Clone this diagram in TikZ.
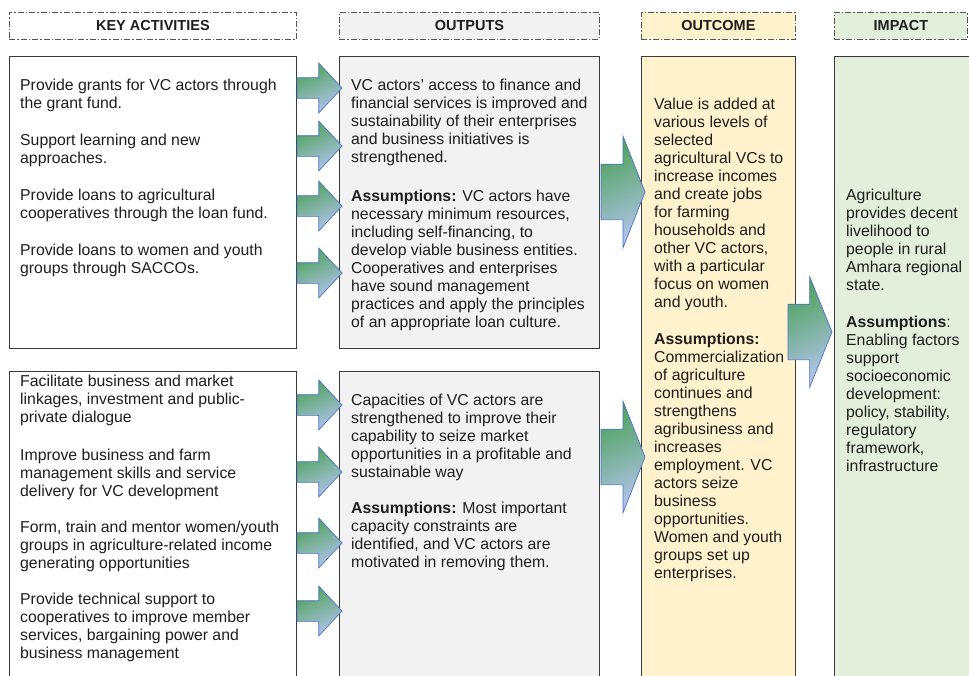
\documentclass[tikz,border=0pt]{standalone}
\usepackage{fontspec}
\setmainfont{Liberation Sans}
\usepackage{xcolor}
\usetikzlibrary{shapes.arrows}
\definecolor{boxline}{HTML}{3A3A3A}
\definecolor{headline}{HTML}{555555}
\definecolor{outfill}{HTML}{F2F2F2}
\definecolor{outcfill}{HTML}{FFF2CC}
\definecolor{impfill}{HTML}{E2EFDA}
\definecolor{arrowgreen}{HTML}{4EA25C}
\definecolor{arrowblue}{HTML}{B3C4EC}
\definecolor{arrowline}{HTML}{4A72C8}
\definecolor{txtcol}{HTML}{1E1E1E}

\begin{document}
\begin{tikzpicture}[x=1pt,y=-1pt,
  head/.style={draw=headline,line width=0.8pt,dash pattern=on 6pt off 2pt on 1.5pt off 2pt,minimum height=27pt,inner sep=0pt,anchor=north west,font=\bfseries\fontsize{14.5}{17}\selectfont,text=txtcol},
  box/.style={draw=boxline,line width=1.3pt,anchor=north west,inner sep=0pt},
  txt/.style={anchor=north west,align=left,inner sep=0pt,text=txtcol,font=\fontsize{15.8}{18}\selectfont},
  blk/.style={single arrow,draw=arrowline,line width=0.7pt,top color=arrowgreen,bottom color=arrowblue,shading angle=25,inner xsep=0pt,outer sep=0pt,single arrow head indent=0pt,anchor=tail},
  small/.style={blk,inner ysep=10pt,single arrow head extend=14.5pt,single arrow tip angle=94,minimum height=45pt},
  big/.style={blk,inner ysep=27.5pt,single arrow head extend=28pt,single arrow tip angle=137,minimum height=44pt}]
\useasboundingbox (0,0) rectangle (969,675);
\fill[white] (0,0) rectangle (969,675);
\clip (0,0) rectangle (969,675);

\draw (9,12) node[head,fill=white,minimum width=287pt] (HAct) {KEY ACTIVITIES};
\draw (339,12) node[head,fill=outfill,minimum width=260pt] (HOut) {OUTPUTS};
\draw (641,12) node[head,fill=outcfill,minimum width=154pt] (HOutc) {OUTCOME};
\draw (834,12) node[head,fill=impfill,minimum width=133pt] (HImp) {IMPACT};

\draw (9,56) node[box,fill=white,minimum width=287pt,minimum height=292pt] (Act1) {};
\draw (339,56) node[box,fill=outfill,minimum width=260pt,minimum height=292pt] (Out1) {};
\draw (9,371) node[box,fill=white,minimum width=287pt,minimum height=340pt] (Act2) {};
\draw (339,371) node[box,fill=outfill,minimum width=260pt,minimum height=340pt] (Out2) {};
\draw (641,56) node[box,fill=outcfill,minimum width=154pt,minimum height=660pt] (Outc) {};
\draw (834,56) node[box,fill=impfill,minimum width=170pt,minimum height=660pt] (Imp) {};

\draw ([shift={(11,23)}]Act1.north west) node[txt] (Act1T) {Provide grants for VC actors through\\
the grant fund.\\[19pt]
Support learning and new\\
approaches.\\[19pt]
Provide loans to agricultural\\
cooperatives through the loan fund.\\[19pt]
Provide loans to women and youth\\
groups through SACCOs.};
\draw ([shift={(12,23)}]Out1.north west) node[txt] (Out1T) {VC actors’ access to finance and\\
financial services is improved and\\
sustainability of their enterprises\\
and business initiatives is\\
strengthened.\\[21pt]
\textbf{Assumptions:} VC actors have\\
necessary minimum resources,\\
including self-financing, to\\
develop viable business entities.\\
Cooperatives and enterprises\\
have sound management\\
practices and apply the principles\\
of an appropriate loan culture.};
\draw ([shift={(11,4)}]Act2.north west) node[txt] (Act2T) {Facilitate business and market\\
linkages, investment and public-\\
private dialogue\\[20pt]
Improve business and farm\\
management skills and service\\
delivery for VC development\\[18pt]
Form, train and mentor women/youth\\
groups in agriculture-related income\\
generating opportunities\\[18pt]
Provide technical support to\\
cooperatives to improve member\\
services, bargaining power and\\
business management};
\draw ([shift={(12,23)}]Out2.north west) node[txt] (Out2T) {Capacities of VC actors are\\
strengthened to improve their\\
capability to seize market\\
opportunities in a profitable and\\
sustainable way\\[18pt]
\textbf{Assumptions:} Most important\\
capacity constraints are\\
identified, and VC actors are\\
motivated in removing them.};
\draw ([shift={(13,42)}]Outc.north west) node[txt] (OutcT) {Value is added at\\
various levels of\\
selected\\
agricultural VCs to\\
increase incomes\\
and create jobs\\
for farming\\
households and\\
other VC actors,\\
with a particular\\
focus on women\\
and youth.\\[19pt]
\textbf{Assumptions:}\\
Commercialization\\
of agriculture\\
continues and\\
strengthens\\
agribusiness and\\
increases\\
employment. VC\\
actors seize\\
business\\
opportunities.\\
Women and youth\\
groups set up\\
enterprises.};
\draw ([shift={(12,133)}]Imp.north west) node[txt] (ImpT) {Agriculture\\
provides decent\\
livelihood to\\
people in rural\\
Amhara regional\\
state.\\[19pt]
\textbf{Assumptions}:\\
Enabling factors\\
support\\
socioeconomic\\
development:\\
policy, stability,\\
regulatory\\
framework,\\
infrastructure};

\draw (297,88) node[small] (S1) {};
\draw (297,146) node[small] (S2) {};
\draw (297,206) node[small] (S3) {};
\draw (297,273) node[small] (S4) {};
\draw (297,405) node[small] (S5) {};
\draw (297,472) node[small] (S6) {};
\draw (297,543) node[small] (S7) {};
\draw (297,611) node[small] (S8) {};
\draw (601,192) node[big] (B1) {};
\draw (601,457) node[big] (B2) {};
\draw (788,332) node[big,single arrow head extend=27.5pt,single arrow tip angle=136] (B3) {};
\end{tikzpicture}
\end{document}
